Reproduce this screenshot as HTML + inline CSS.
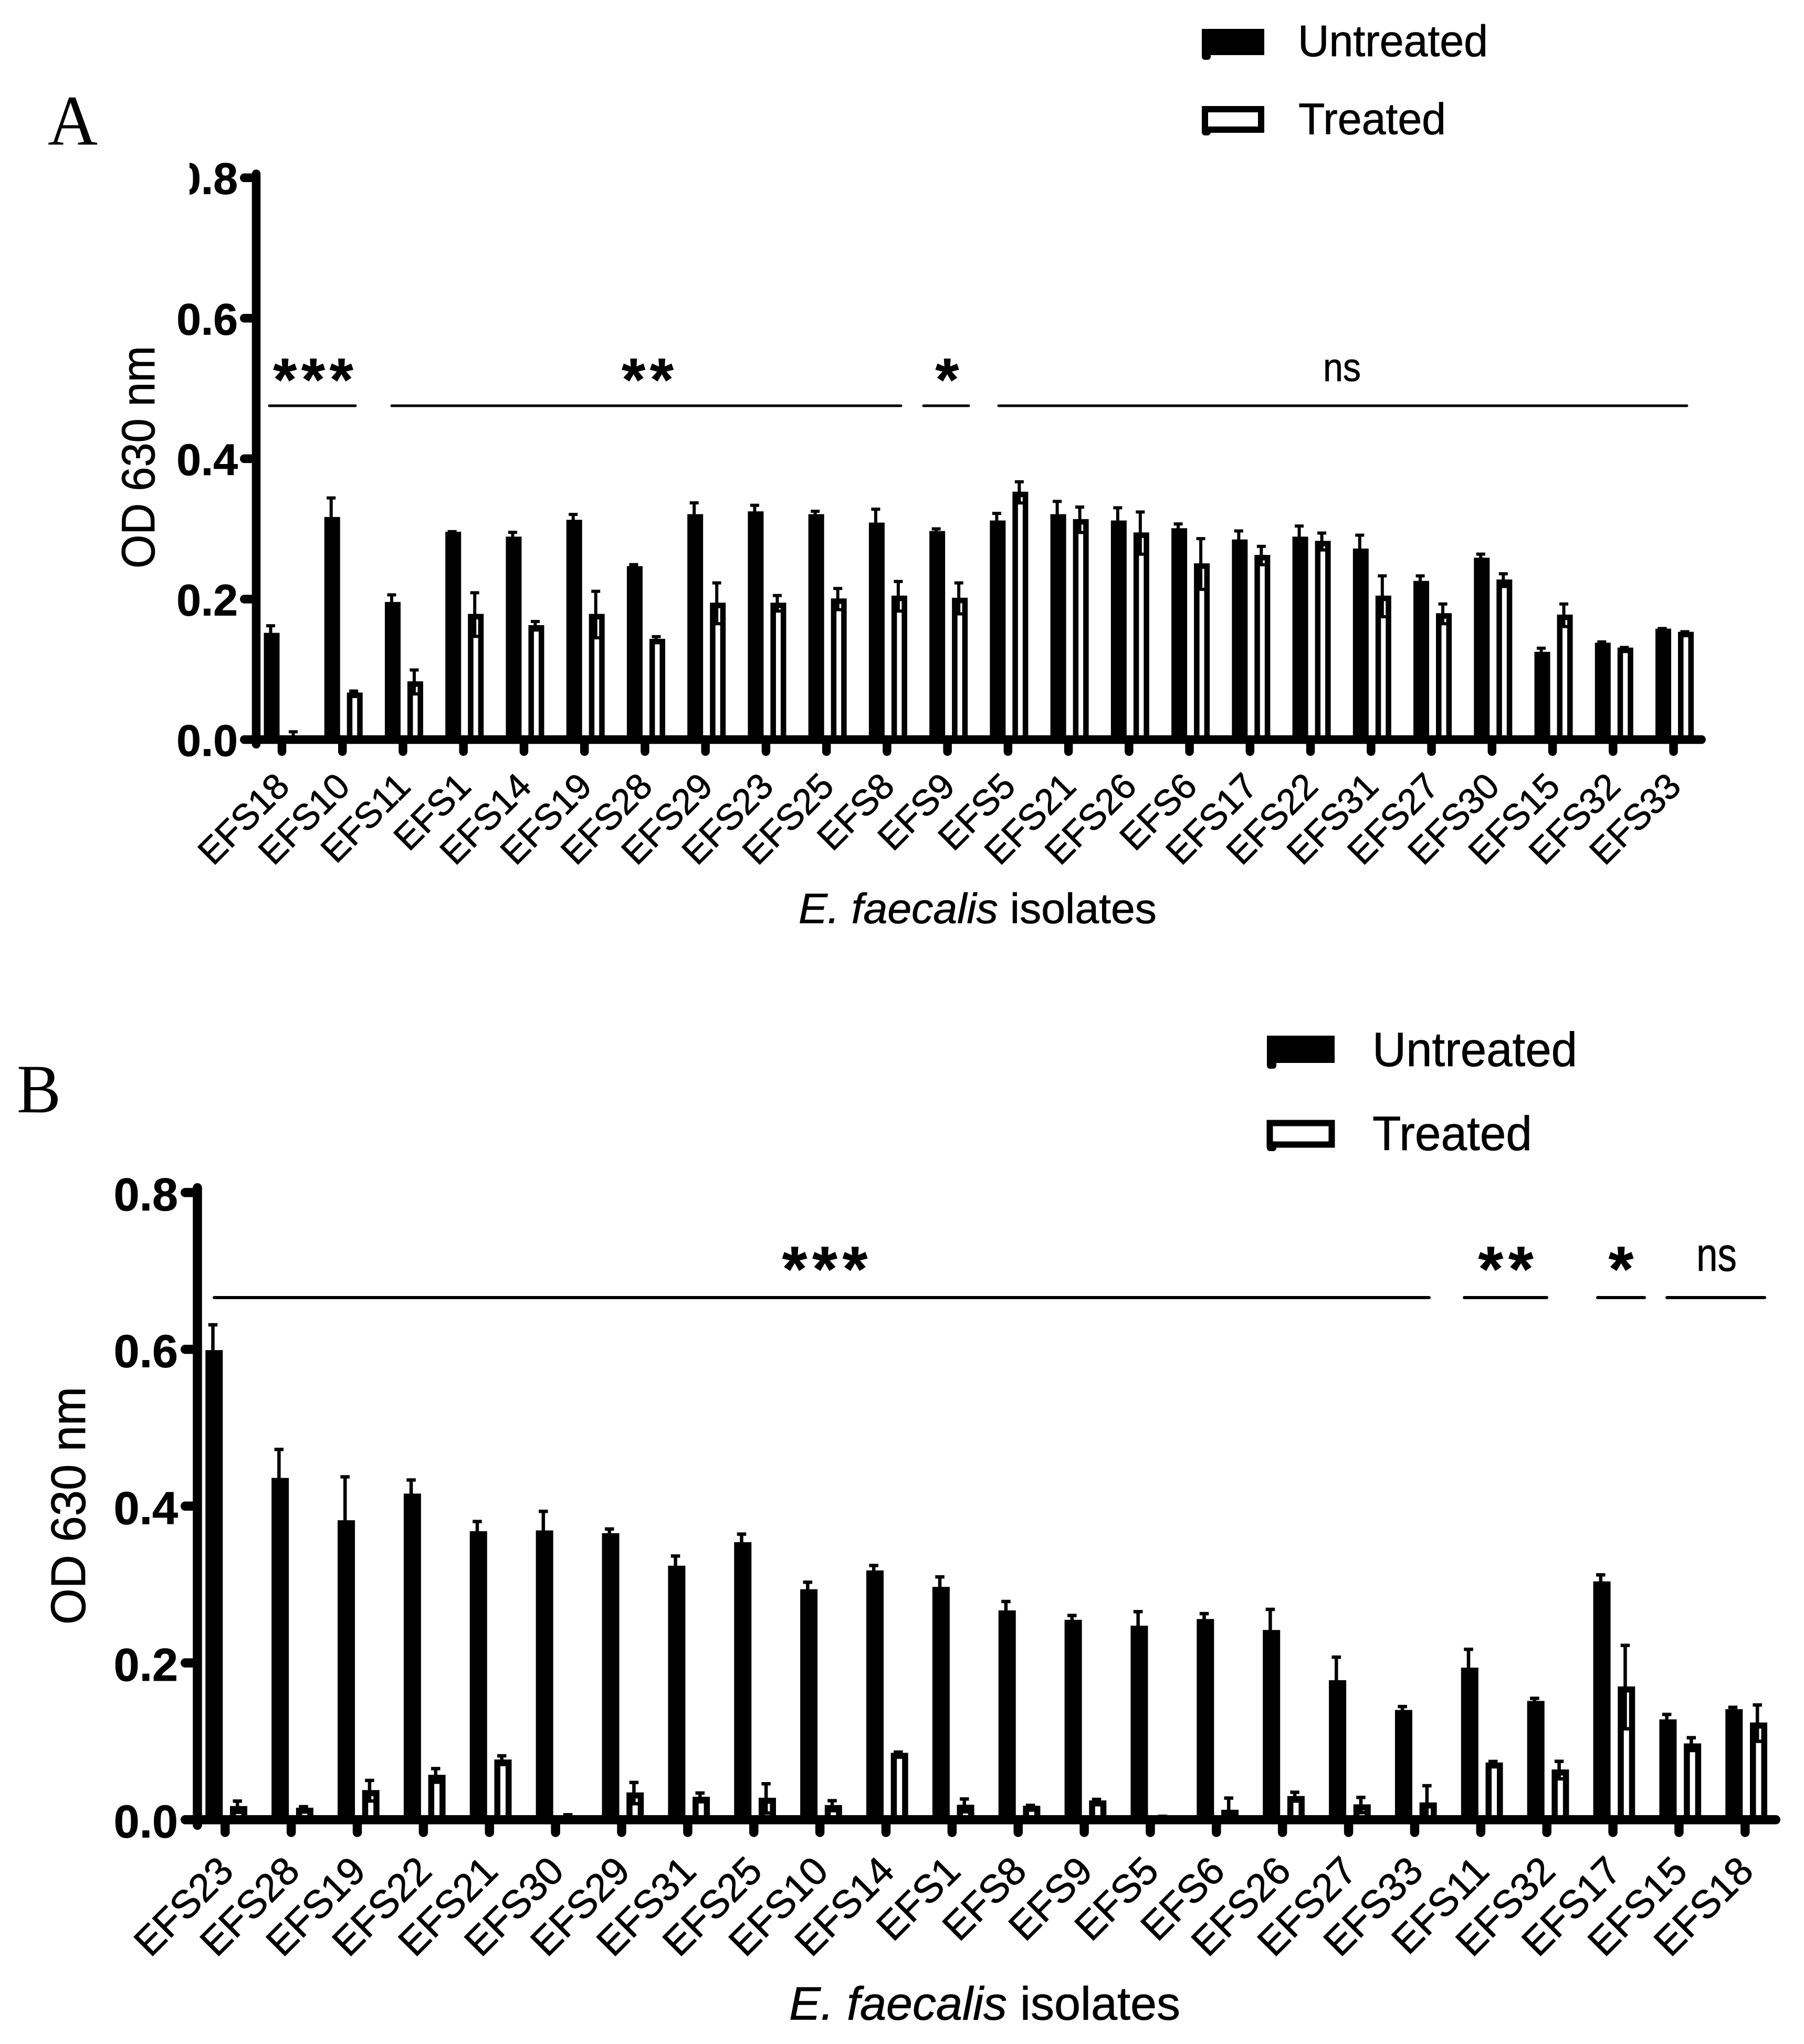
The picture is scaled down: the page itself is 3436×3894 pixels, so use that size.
<!DOCTYPE html>
<html lang="en">
<head>
<meta charset="utf-8">
<title>E. faecalis isolates OD 630 nm</title>
<style>
html,body{margin:0;padding:0;background:#fff;}
svg{display:block;}
text{font-family:"Liberation Sans",Arial,sans-serif;fill:#000;stroke:#000;stroke-width:0.8px;}
.serif{font-family:"Liberation Serif","Times New Roman",serif;stroke-width:0;}
</style>
</head>
<body>
<svg id="figure" xmlns="http://www.w3.org/2000/svg" width="3436" height="3894" viewBox="0 0 3436 3894">
  <defs>
    <clipPath id="clip-a-top"><rect x="361" y="260" width="200" height="160"/></clipPath>
  </defs>
  <rect x="0" y="0" width="3436" height="3894" fill="#fff"/>

  <g id="panel-a">
    <text class="serif" x="91" y="275.5" font-size="136" textLength="95" lengthAdjust="spacingAndGlyphs">A</text>
    <text transform="translate(294,1083) rotate(-90)" font-size="89" textLength="424" lengthAdjust="spacingAndGlyphs">OD 630 nm</text>
    <text x="1521" y="1758.5" font-size="81" textLength="682" lengthAdjust="spacingAndGlyphs"><tspan font-style="italic">E. faecalis</tspan> isolates</text>
    <g>
      <g>
        <rect x="2289" y="55" width="119" height="50" fill="#000"/>
        <rect x="2289" y="100" width="17" height="14" rx="6" fill="#000"/>
        <text x="2472" y="107" font-size="84" textLength="362" lengthAdjust="spacingAndGlyphs">Untreated</text>
      </g>
      <g>
        <rect x="2295" y="208" width="107" height="39" fill="#fff" stroke="#000" stroke-width="12"/>
        <rect x="2289" y="244" width="17" height="14" rx="6" fill="#000"/>
        <text x="2473" y="255.5" font-size="84" textLength="281" lengthAdjust="spacingAndGlyphs">Treated</text>
      </g>
    </g>
    <g stroke="#000" stroke-width="5" stroke-linecap="round">
      <line x1="513" y1="773" x2="677" y2="773"/>
      <line x1="746" y1="773" x2="1716" y2="773"/>
      <line x1="1759" y1="773" x2="1845" y2="773"/>
      <line x1="1902" y1="773" x2="3213" y2="773"/>
    </g>
    <text x="601" y="763" font-size="115" font-weight="bold" text-anchor="middle" letter-spacing="9">***</text>
    <text x="1238" y="763" font-size="115" font-weight="bold" text-anchor="middle" letter-spacing="9">**</text>
    <text x="1804" y="763" font-size="115" font-weight="bold" text-anchor="middle">*</text>
    <text x="2520" y="726" font-size="76" textLength="72" lengthAdjust="spacingAndGlyphs">ns</text>
  </g>

  <g id="panel-b">
    <text class="serif" x="32" y="2119" font-size="132" textLength="84" lengthAdjust="spacingAndGlyphs">B</text>
    <text transform="translate(162,3095) rotate(-90)" font-size="93" textLength="453" lengthAdjust="spacingAndGlyphs">OD 630 nm</text>
    <text x="1503" y="3847.7" font-size="89" textLength="745" lengthAdjust="spacingAndGlyphs"><tspan font-style="italic">E. faecalis</tspan> isolates</text>
    <g>
      <g>
        <rect x="2413" y="1973" width="129" height="52" fill="#000"/>
        <rect x="2413" y="2020" width="18" height="16" rx="6" fill="#000"/>
        <text x="2614" y="2031" font-size="92" textLength="390" lengthAdjust="spacingAndGlyphs">Untreated</text>
      </g>
      <g>
        <rect x="2418.5" y="2139.5" width="118" height="41" fill="#fff" stroke="#000" stroke-width="12"/>
        <rect x="2413" y="2180" width="18" height="13" rx="6" fill="#000"/>
        <text x="2614" y="2191" font-size="92" textLength="304" lengthAdjust="spacingAndGlyphs">Treated</text>
      </g>
    </g>
    <g stroke="#000" stroke-width="6" stroke-linecap="round">
      <line x1="408" y1="2472" x2="2722" y2="2472"/>
      <line x1="2789" y1="2472" x2="2946" y2="2472"/>
      <line x1="3043" y1="2472" x2="3132" y2="2472"/>
      <line x1="3175" y1="2472" x2="3361" y2="2472"/>
    </g>
    <text x="1576" y="2459" font-size="122" font-weight="bold" text-anchor="middle" letter-spacing="10">***</text>
    <text x="2873" y="2459" font-size="122" font-weight="bold" text-anchor="middle" letter-spacing="10">**</text>
    <text x="3087.5" y="2459" font-size="122" font-weight="bold" text-anchor="middle">*</text>
    <text x="3231" y="2421" font-size="90" textLength="77" lengthAdjust="spacingAndGlyphs">ns</text>
  </g>
</svg>

<script>
var yTickValues = [0, 0.2, 0.4, 0.6, 0.8];
var yTickLabels = ["0.0", "0.2", "0.4", "0.6", "0.8"];

var categoriesA = ["EFS18","EFS10","EFS11","EFS1","EFS14","EFS19","EFS28","EFS29","EFS23","EFS25","EFS8","EFS9","EFS5","EFS21","EFS26","EFS6","EFS17","EFS22","EFS31","EFS27","EFS30","EFS15","EFS32","EFS33"];
var untreatedA = [0.152,0.317,0.196,0.296,0.289,0.313,0.247,0.321,0.325,0.321,0.309,0.297,0.312,0.321,0.312,0.301,0.285,0.289,0.272,0.226,0.259,0.125,0.138,0.158];
var untreatedErrA = [0.012,0.029,0.012,0.002,0.008,0.0095,0.004,0.018,0.0105,0.006,0.021,0.005,0.012,0.02,0.02,0.008,0.014,0.017,0.021,0.009,0.007,0.007,0.003,0.002];
var treatedA = [0.002,0.067,0.083,0.179,0.163,0.179,0.1435,0.195,0.195,0.201,0.205,0.202,0.353,0.314,0.295,0.251,0.263,0.283,0.205,0.18,0.228,0.178,0.131,0.1535];
var treatedErrA = [0.011,0.004,0.018,0.032,0.007,0.034,0.005,0.03,0.012,0.016,0.022,0.023,0.016,0.019,0.031,0.037,0.014,0.013,0.03,0.015,0.01,0.017,0.002,0.002];

var categoriesB = ["EFS23","EFS28","EFS19","EFS22","EFS21","EFS30","EFS29","EFS31","EFS25","EFS10","EFS14","EFS1","EFS8","EFS9","EFS5","EFS6","EFS26","EFS27","EFS33","EFS11","EFS32","EFS17","EFS15","EFS18"];
var untreatedB = [0.599,0.436,0.382,0.416,0.368,0.369,0.3655,0.324,0.354,0.294,0.318,0.297,0.267,0.255,0.2475,0.256,0.242,0.178,0.14,0.194,0.1515,0.304,0.128,0.141];
var untreatedErrB = [0.034,0.038,0.057,0.019,0.014,0.026,0.007,0.014,0.012,0.0106,0.008,0.0144,0.013,0.0072,0.0195,0.0085,0.028,0.031,0.006,0.025,0.005,0.01,0.008,0.004];
var treatedB = [0.0174,0.0153,0.0378,0.0573,0.0768,0.005,0.0348,0.0293,0.028,0.0187,0.0853,0.0191,0.0178,0.0246,0.004,0.0127,0.0302,0.0196,0.022,0.073,0.0641,0.17,0.0973,0.124];
var treatedErrB = [0.008,0.003,0.014,0.0095,0.0064,0.003,0.0144,0.0064,0.0195,0.0072,0.0026,0.009,0.0022,0.003,0.002,0.0166,0.0065,0.0105,0.023,0.003,0.012,0.054,0.009,0.024];

var SVG_NS = "http://www.w3.org/2000/svg";

function makeSvg(tag, parent) {
  var el = document.createElementNS(SVG_NS, tag);
  parent.appendChild(el);
  return el;
}

function drawPanel(parentId, suffix, g, categories, untreated, untreatedErr, treated, treatedErr) {
  var parent = document.getElementById(parentId);
  function yScale(v) { return g.y0 - v * g.yPerUnit; }
  function xScale(i) { return g.x0 + i * g.step; }

  var marks = makeSvg("g", parent);
  
  

  categories.forEach(function (name, i) {
    var id = name.toLowerCase() + "-" + suffix;
    var tick = xScale(i);

    var uTop = yScale(untreated[i]);
    var uX = tick + g.uOffset - g.barWidth / 2;
    var uBar = makeSvg("rect", marks);
    
    
    uBar.setAttribute("x", uX);
    uBar.setAttribute("y", uTop);
    uBar.setAttribute("width", g.barWidth);
    uBar.setAttribute("height", Math.max(0, g.y0 - uTop));
    uBar.setAttribute("fill", "#000");

    var tTop = yScale(treated[i]);
    var tX = tick + g.tOffset - g.barWidth / 2;
    var b = g.border;
    var tBar = makeSvg("rect", marks);
    
    
    tBar.setAttribute("x", tX + b / 2);
    tBar.setAttribute("y", tTop + b / 2);
    tBar.setAttribute("width", g.barWidth - b);
    tBar.setAttribute("height", Math.max(0, g.y0 - tTop - b / 2));
    tBar.setAttribute("fill", "#fff");
    tBar.setAttribute("stroke", "#000");
    tBar.setAttribute("stroke-width", b);

    [[uX + g.barWidth / 2, untreated[i], untreatedErr[i], "untreated"],
     [tX + g.barWidth / 2, treated[i], treatedErr[i], "treated"]].forEach(function (e) {
      var cx = e[0] + g.errOffset;
      var hi = yScale(e[1] + e[2]) + 2.5;
      var lo = yScale(Math.max(0, e[1] - e[2]));
      var hw = g.capWidth / 2;
      var err = makeSvg("path", marks);
      
      
      err.setAttribute("d", "M" + cx + " " + lo + "V" + hi + "M" + (cx - hw) + " " + hi + "H" + (cx + hw) + "M" + (cx - hw) + " " + lo + "H" + (cx + hw));
      err.setAttribute("fill", "none");
      err.setAttribute("stroke", "#000");
      err.setAttribute("stroke-width", g.errWidth);
    });
  });

  var axes = makeSvg("g", parent);
  
  
  axes.setAttribute("stroke", "#000");
  axes.setAttribute("stroke-linecap", "round");
  axes.setAttribute("stroke-width", g.axisWidth);

  var yLine = makeSvg("line", axes);
  
  
  yLine.setAttribute("x1", g.yAxisX);
  yLine.setAttribute("x2", g.yAxisX);
  yLine.setAttribute("y1", g.yAxisTop + g.axisWidth / 2);
  yLine.setAttribute("y2", g.yAxisBottom - g.axisWidth / 2);

  var xLine = makeSvg("line", axes);
  
  
  xLine.setAttribute("x1", g.yAxisX);
  xLine.setAttribute("x2", g.xAxisEnd - g.axisWidth / 2);
  xLine.setAttribute("y1", g.y0);
  xLine.setAttribute("y2", g.y0);

  yTickValues.forEach(function (v, i) {
    var y = yScale(v);
    var t = makeSvg("line", axes);
    
    
    t.setAttribute("x1", g.yTickLeft + g.axisWidth / 2);
    t.setAttribute("x2", g.yAxisX);
    t.setAttribute("y1", y);
    t.setAttribute("y2", y);

    var label = makeSvg("text", parent);
    
    
    label.setAttribute("x", g.yLabelRight);
    label.setAttribute("y", y + g.yLabelDy);
    label.setAttribute("text-anchor", "end");
    label.setAttribute("font-size", g.yLabelSize);
    label.setAttribute("font-weight", "bold");
    label.textContent = yTickLabels[i];
    if (g.clipLabel === yTickLabels[i]) {
      label.setAttribute("clip-path", "url(#clip-a-top)");
    }
  });

  categories.forEach(function (name, i) {
    var x = xScale(i);
    var t = makeSvg("line", axes);
    
    
    t.setAttribute("x1", x);
    t.setAttribute("x2", x);
    t.setAttribute("y1", g.y0);
    t.setAttribute("y2", g.xTickBottom - g.axisWidth / 2);

    var label = makeSvg("text", parent);
    
    
    label.setAttribute("transform", "translate(" + (x + g.xLabelDx) + "," + (g.y0 + g.xLabelDy) + ") rotate(-45)");
    label.setAttribute("text-anchor", "end");
    label.setAttribute("font-size", g.xLabelSize);
    label.textContent = name;
  });
}

drawPanel("panel-a", "a", {
  y0: 1409, yPerUnit: 1337.9, x0: 537, step: 115.24,
  uOffset: -19.5, tOffset: 23.5, barWidth: 30, border: 10.5,
  errOffset: -2, capWidth: 17, errWidth: 6,
  axisWidth: 16.5, yAxisX: 488, yAxisTop: 323, yAxisBottom: 1426, xAxisEnd: 3249,
  yTickLeft: 457, xTickBottom: 1440,
  yLabelRight: 453, yLabelDy: 31, yLabelSize: 84, clipLabel: "0.8",
  xLabelDx: 18, xLabelDy: 93, xLabelSize: 69
}, categoriesA, untreatedA, untreatedErrA, treatedA, treatedErrA);

drawPanel("panel-b", "b", {
  y0: 3466.7, yPerUnit: 1493.5, x0: 428.8, step: 125.87,
  uOffset: -21, tOffset: 25.7, barWidth: 33, border: 11.5,
  errOffset: -2.3, capWidth: 17.5, errWidth: 6.5,
  axisWidth: 17.5, yAxisX: 376, yAxisTop: 2254, yAxisBottom: 3486, xAxisEnd: 3391,
  yTickLeft: 344, xTickBottom: 3499.7,
  yLabelRight: 339, yLabelDy: 34, yLabelSize: 88, clipLabel: null,
  xLabelDx: 20, xLabelDy: 102, xLabelSize: 75
}, categoriesB, untreatedB, untreatedErrB, treatedB, treatedErrB);
</script>
</body>
</html>
